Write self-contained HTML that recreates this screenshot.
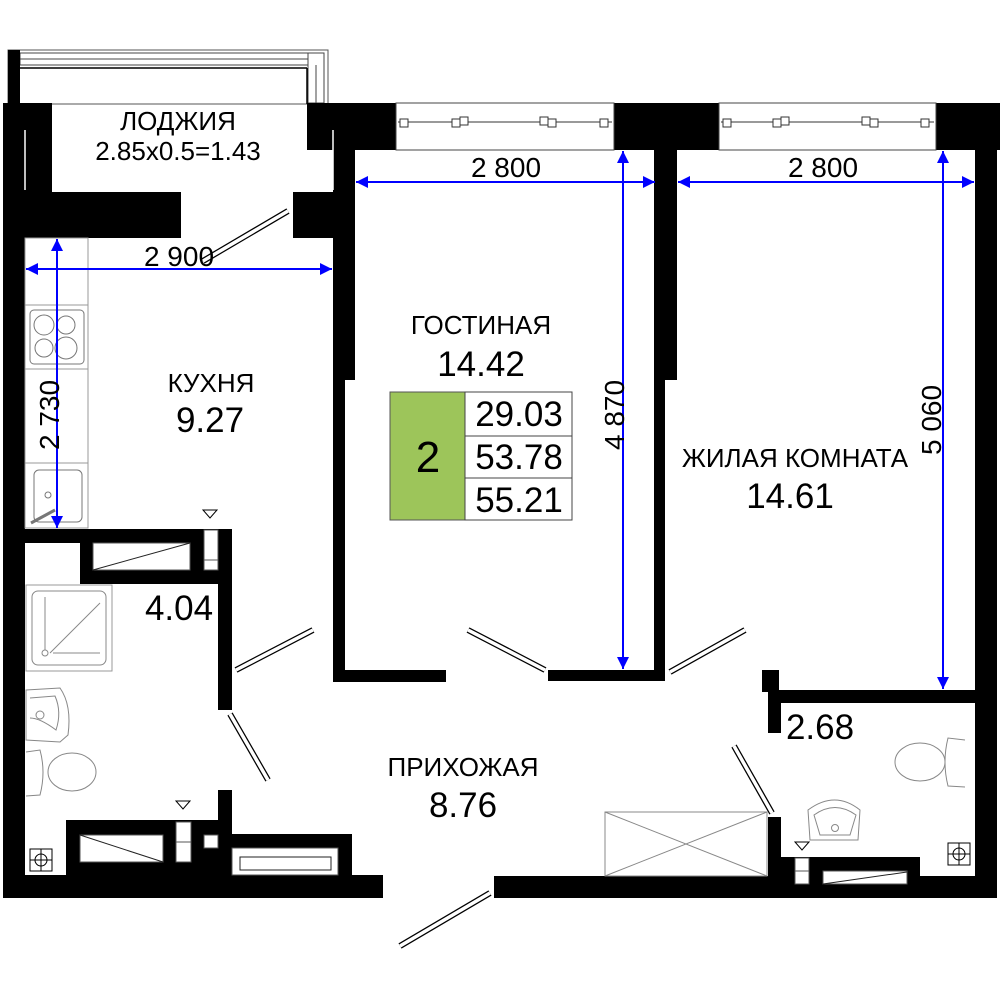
<!DOCTYPE html>
<html><head><meta charset="utf-8"><style>
html,body{margin:0;padding:0;background:#fff;width:1000px;height:1000px;overflow:hidden}
svg{display:block}
text{font-family:"Liberation Sans","Noto Sans CJK SC",sans-serif;fill:#000}
</style></head><body>
<svg width="1000" height="1000" viewBox="0 0 1000 1000" xmlns="http://www.w3.org/2000/svg">
<defs>
<marker id="ar" viewBox="0 0 10 10" refX="10" refY="5" markerWidth="15" markerHeight="12" markerUnits="userSpaceOnUse" orient="auto-start-reverse">
<path d="M0,0 L10,5 L0,10 z" fill="#0000ff"/></marker>
</defs>
<rect x="8" y="50" width="320" height="54" fill="none" stroke="#555" stroke-width="1"/>
<rect x="20" y="53" width="292" height="12" fill="#fff" stroke="#444" stroke-width="1"/>
<line x1="20" y1="59" x2="312" y2="59" stroke="#444"/>
<rect x="308" y="53" width="16" height="50" fill="#fff" stroke="#444" stroke-width="1"/>
<line x1="316" y1="65" x2="316" y2="103" stroke="#444"/>
<line x1="20" y1="68" x2="307" y2="68" stroke="#000" stroke-width="1.5"/>
<line x1="307" y1="68" x2="307" y2="104" stroke="#000" stroke-width="1.5"/>
<rect x="8" y="50" width="12" height="54" fill="#000"/>
<g fill="#000">
<rect x="3" y="103" width="22" height="795"/>
<rect x="3" y="103" width="49" height="90"/>
<rect x="3" y="192" width="178" height="46"/>
<rect x="293" y="192" width="40" height="46"/>
<rect x="307" y="103" width="89" height="47"/>
<rect x="333" y="103" width="22" height="277"/>
<rect x="333" y="380" width="12" height="302"/>
<rect x="333" y="670" width="113" height="12"/>
<rect x="548" y="670" width="117" height="11"/>
<rect x="654" y="150" width="23" height="230"/>
<rect x="654" y="380" width="11" height="300"/>
<rect x="614" y="103" width="105" height="47"/>
<rect x="936" y="103" width="64" height="47"/>
<rect x="975" y="103" width="22" height="795"/>
<rect x="768" y="690" width="229" height="13"/>
<rect x="762" y="670" width="17" height="22"/>
<rect x="768" y="690" width="13" height="43"/>
<rect x="768" y="817" width="13" height="60"/>
<rect x="494" y="876" width="503" height="22"/>
<rect x="768" y="857" width="152" height="40"/>
<rect x="25" y="529" width="207" height="14"/>
<rect x="80" y="543" width="152" height="41"/>
<rect x="218" y="529" width="14" height="181"/>
<rect x="218" y="790" width="14" height="90"/>
<rect x="66" y="820" width="166" height="60"/>
<rect x="218" y="834" width="134" height="45"/>
<rect x="3" y="875" width="380" height="23"/>
</g>
<g fill="#fff" stroke="#555" stroke-width="1">
<rect x="93" y="543" width="97" height="27"/>
<rect x="204" y="530" width="14" height="40"/>
<rect x="80" y="835" width="83" height="27"/>
<rect x="176" y="822" width="15" height="40"/>
<rect x="204" y="835" width="14" height="13"/>
<rect x="232" y="848" width="106" height="27"/>
<rect x="795" y="858" width="14" height="26"/>
<rect x="823" y="871" width="84" height="13"/>
</g>
<line x1="93" y1="570" x2="190" y2="543" stroke="#222"/>
<line x1="80" y1="835" x2="163" y2="862" stroke="#222"/>
<line x1="823" y1="884" x2="907" y2="872" stroke="#222"/>
<rect x="240" y="857" width="91" height="13" fill="none" stroke="#222"/>
<line x1="204" y1="560" x2="218" y2="560" stroke="#555"/>
<line x1="176" y1="842" x2="191" y2="842" stroke="#555"/>
<line x1="795" y1="871" x2="809" y2="871" stroke="#555"/>
<line x1="25" y1="130" x2="25" y2="190" stroke="#fff" stroke-width="1.5"/>
<line x1="333" y1="130" x2="333" y2="190" stroke="#fff" stroke-width="1.5"/>
<g fill="#fff" stroke="#444" stroke-width="1">
<rect x="396" y="103" width="218" height="47"/>
<rect x="719" y="103" width="217" height="47"/>
</g>
<g stroke="#333" fill="#fff" stroke-width="1">
<line x1="398" y1="122" x2="612" y2="122"/>
<line x1="721" y1="122" x2="934" y2="122"/>
<rect x="400" y="119" width="8" height="8"/><rect x="452" y="119" width="8" height="8"/><rect x="460" y="117" width="8" height="8"/>
<rect x="540" y="117" width="8" height="8"/><rect x="548" y="119" width="8" height="8"/><rect x="600" y="119" width="8" height="8"/>
<rect x="723" y="119" width="8" height="8"/><rect x="773" y="119" width="8" height="8"/><rect x="781" y="117" width="8" height="8"/>
<rect x="862" y="117" width="8" height="8"/><rect x="870" y="119" width="8" height="8"/><rect x="921" y="119" width="8" height="8"/>
</g>
<g stroke-linecap="butt">
<g stroke="#000" stroke-width="6">
<line x1="288" y1="211" x2="203" y2="261"/>
<line x1="545" y1="670" x2="468" y2="630"/>
<line x1="670" y1="672" x2="745" y2="630"/>
<line x1="236" y1="670" x2="313" y2="630"/>
<line x1="230" y1="714" x2="268" y2="780"/>
<line x1="772" y1="813" x2="734" y2="746"/>
<line x1="490" y1="893" x2="400" y2="946"/>
</g>
<g stroke="#fff" stroke-width="3.5">
<line x1="288" y1="211" x2="203" y2="261"/>
<line x1="545" y1="670" x2="468" y2="630"/>
<line x1="670" y1="672" x2="745" y2="630"/>
<line x1="236" y1="670" x2="313" y2="630"/>
<line x1="230" y1="714" x2="268" y2="780"/>
<line x1="772" y1="813" x2="734" y2="746"/>
<line x1="490" y1="893" x2="400" y2="946"/>
</g>
</g>
<g fill="none" stroke="#999" stroke-width="1">
<rect x="25" y="238" width="63" height="290"/>
<line x1="25" y1="305" x2="88" y2="305"/><line x1="25" y1="369" x2="88" y2="369"/><line x1="25" y1="463" x2="88" y2="463"/>
<rect x="30" y="310" width="54" height="54" rx="4" stroke="#777"/>
<circle cx="44" cy="325" r="10" stroke="#777"/><circle cx="66" cy="325" r="9" stroke="#777"/>
<circle cx="44" cy="348" r="9" stroke="#777"/><circle cx="66" cy="348" r="11" stroke="#777"/>
<rect x="34" y="470" width="48" height="52" rx="5" stroke="#777"/>
<circle cx="48" cy="495" r="3" stroke="#777"/>
<line x1="31" y1="523" x2="55" y2="510" stroke="#777" stroke-width="3"/>
<rect x="26" y="585" width="86" height="86"/>
<rect x="32" y="591" width="74" height="74" rx="6" stroke="#888"/>
<line x1="45" y1="597" x2="45" y2="650" stroke="#888"/>
<line x1="50" y1="653" x2="100" y2="603" stroke="#888"/>
<line x1="53" y1="653" x2="100" y2="653" stroke="#888"/>
<circle cx="45" cy="653" r="3" stroke="#888"/>
<path d="M26,690 L60,688 Q72,705 68,735 L60,742 L26,740 Z" stroke="#888"/>
<path d="M30,698 L55,696 Q62,712 56,730 Q40,718 30,718" stroke="#888"/>
<circle cx="40" cy="715" r="4" stroke="#888"/>
<path d="M26,752 L40,750 Q46,772 40,795 L26,796" stroke="#888"/>
<ellipse cx="72" cy="772" rx="24" ry="19" stroke="#888"/>
<path d="M965,740 L948,738 Q942,762 948,786 L965,787" stroke="#888"/>
<ellipse cx="920" cy="762" rx="25" ry="19" stroke="#888"/>
<path d="M808,810 Q835,790 860,810 L858,840 L810,840 Z" stroke="#888"/>
<path d="M814,815 Q835,800 856,815 L850,835 L820,835 Z" stroke="#888"/>
<circle cx="835" cy="828" r="3.5" stroke="#888"/>
<rect x="605" y="812" width="162" height="64" stroke="#888"/>
<line x1="605" y1="812" x2="767" y2="876" stroke="#888"/>
<line x1="605" y1="876" x2="767" y2="812" stroke="#888"/>
</g>
<g fill="none" stroke="#000" stroke-width="1">
<rect x="30" y="849" width="22" height="22"/><circle cx="41" cy="860" r="6"/>
<line x1="30" y1="860" x2="52" y2="860"/><line x1="41" y1="849" x2="41" y2="871"/>
<rect x="948" y="843" width="22" height="22"/><circle cx="959" cy="854" r="6"/>
<line x1="948" y1="854" x2="970" y2="854"/><line x1="959" y1="843" x2="959" y2="865"/>
<path d="M203,510 L217,510 L210,518 Z"/>
<path d="M176,801 L190,801 L183,809 Z"/>
<path d="M795,842 L809,842 L802,850 Z"/>
</g>
<g stroke="#0000ff" stroke-width="2" marker-start="url(#ar)" marker-end="url(#ar)">
<line x1="26" y1="269" x2="332" y2="269"/>
<line x1="57" y1="239" x2="57" y2="528"/>
<line x1="356" y1="182" x2="655" y2="182"/>
<line x1="623" y1="151" x2="623" y2="669"/>
<line x1="678" y1="182" x2="974" y2="182"/>
<line x1="943" y1="151" x2="943" y2="689"/>
</g>
<g font-size="28" text-anchor="middle">
<text x="179" y="266">2 900</text>
<text x="506" y="177">2 800</text>
<text x="823" y="177">2 800</text>
<text transform="translate(59,415) rotate(-90)">2 730</text>
<text transform="translate(624,415) rotate(-90)">4 870</text>
<text transform="translate(941,420) rotate(-90)">5 060</text>
</g>
<g text-anchor="middle">
<text x="178" y="130" font-size="26">ЛОДЖИЯ</text>
<text x="178" y="160" font-size="26">2.85x0.5=1.43</text>
<text x="211" y="392" font-size="26">КУХНЯ</text>
<text x="210" y="432" font-size="35">9.27</text>
<text x="481" y="334" font-size="26">ГОСТИНАЯ</text>
<text x="481" y="376" font-size="35">14.42</text>
<text x="795" y="467" font-size="26">ЖИЛАЯ КОМНАТА</text>
<text x="790" y="508" font-size="35">14.61</text>
<text x="179" y="620" font-size="35">4.04</text>
<text x="463" y="776" font-size="26">ПРИХОЖАЯ</text>
<text x="463" y="817" font-size="35">8.76</text>
<text x="820" y="739" font-size="35">2.68</text>
</g>
<rect x="390" y="392" width="75" height="128" fill="#9dc55a" stroke="#555" stroke-width="1"/>
<rect x="465" y="392" width="107" height="128" fill="#fff" stroke="#444" stroke-width="1"/>
<line x1="465" y1="436" x2="572" y2="436" stroke="#444"/>
<line x1="465" y1="478" x2="572" y2="478" stroke="#444"/>
<g text-anchor="middle" font-size="35">
<text x="428" y="472" font-size="44">2</text>
<text x="519" y="426">29.03</text>
<text x="519" y="469">53.78</text>
<text x="519" y="512">55.21</text>
</g>
</svg>
</body></html>
